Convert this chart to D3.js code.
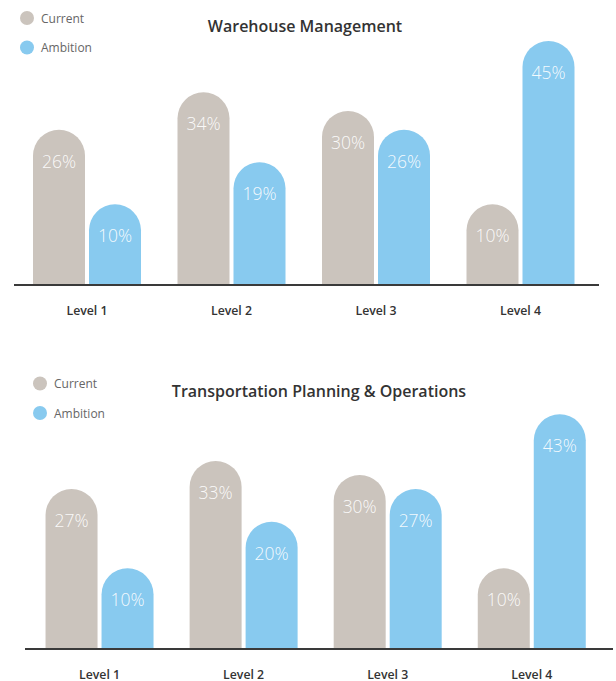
<!DOCTYPE html>
<html>
<head>
<meta charset="utf-8">
<script src="https://cdn.jsdelivr.net/npm/d3@7"></script>
<style>
  html, body { margin: 0; padding: 0; background: #fff; }
  svg { display: block; }
</style>
</head>
<body>
<svg id="chart" width="616" height="681"></svg>
<script>
// Maturity levels and series
const levels = ["Level 1", "Level 2", "Level 3", "Level 4"];
const seriesNames = ["Current", "Ambition"];

// Warehouse Management (%)
const warehouseCurrent = [26, 34, 30, 10];
const warehouseAmbition = [10, 19, 26, 45];

// Transportation Planning & Operations (%)
const transportCurrent = [27, 33, 30, 10];
const transportAmbition = [10, 20, 27, 43];

const panelTitles = ["Warehouse Management", "Transportation Planning & Operations"];

const colors = { Current: "#cbc4bd", Ambition: "#88caef" };

const svg = d3.select("#chart");

// Bar height scale (pixels above the baseline)
const h = d3.scaleLinear().domain([0, 45]).range([34, 244]);

function drawPanel(cfg) {
  const g = svg.append("g");
  const rows = levels.map((lvl, i) => ({
    level: lvl,
    values: [
      { key: "Current", value: cfg.current[i] },
      { key: "Ambition", value: cfg.ambition[i] }
    ]
  }));

  const step = (cfg.x1 - cfg.x0) / levels.length;
  const pad = 1 - 108 / step;
  const x0 = d3.scaleBand()
    .domain(levels)
    .range([cfg.x0, cfg.x1])
    .paddingInner(pad)
    .paddingOuter(pad / 2);

  const x1 = d3.scaleBand()
    .domain(seriesNames)
    .range([0, x0.bandwidth()])
    .paddingInner(2 - 108 / 56);

  const groups = g.selectAll("g.level")
    .data(rows)
    .join("g")
    .attr("class", "level")
    .attr("transform", d => `translate(${x0(d.level)},0)`);

  const base = cfg.baseline;

  // Pill-shaped bars: rectangle with a semicircular top
  groups.selectAll("path.bar")
    .data(d => d.values)
    .join("path")
    .attr("class", "bar")
    .attr("fill", d => colors[d.key])
    .attr("d", d => {
      const w = x1.bandwidth();
      const r = w / 2;
      const x = x1(d.key);
      const top = base - h(d.value);
      return `M${x},${base} V${top + r} A${r},${r} 0 0 1 ${x + w},${top + r} V${base} Z`;
    });

  groups.selectAll("text.val")
    .data(d => d.values)
    .join("text")
    .attr("class", "val")
    .attr("x", d => x1(d.key) + x1.bandwidth() / 2)
    .attr("y", d => base - h(d.value) + 38)
    .attr("text-anchor", "middle")
    .attr("font-family", "'Open Sans', sans-serif")
    .attr("font-weight", 300)
    .attr("font-size", 17.5)
    .attr("fill", "#ffffff")
    .attr("fill-opacity", 0.92)
    .text(d => d.value + "%");

  // Baseline
  g.append("line")
    .attr("x1", cfg.lineX0).attr("x2", cfg.lineX1)
    .attr("y1", base).attr("y2", base)
    .attr("stroke", "#3a3a3a")
    .attr("stroke-width", 2);

  // Category labels
  g.selectAll("text.cat")
    .data(levels)
    .join("text")
    .attr("class", "cat")
    .attr("x", d => x0(d) + x0.bandwidth() / 2)
    .attr("y", base + 29.5)
    .attr("text-anchor", "middle")
    .attr("font-family", "'Open Sans', sans-serif")
    .attr("font-weight", 600)
    .attr("font-size", 12.3)
    .attr("fill", "#333")
    .text(d => d);

  // Title
  g.append("text")
    .attr("x", cfg.titleX)
    .attr("y", cfg.titleY)
    .attr("text-anchor", "middle")
    .attr("font-family", "'Open Sans', sans-serif")
    .attr("font-weight", 600)
    .attr("font-size", 16)
    .attr("fill", "#333")
    .text(cfg.title);

  // Legend
  const lg = g.selectAll("g.legend")
    .data(seriesNames)
    .join("g")
    .attr("class", "legend")
    .attr("transform", (d, i) => `translate(${cfg.legendX},${cfg.legendY + i * 29.5})`);
  lg.append("circle").attr("r", 7).attr("fill", d => colors[d]);
  lg.append("text")
    .attr("x", 14)
    .attr("y", 4.5)
    .attr("font-family", "'Open Sans', sans-serif")
    .attr("font-size", 12)
    .attr("fill", "#666")
    .text(d => d);
}

drawPanel({
  title: panelTitles[0],
  current: warehouseCurrent,
  ambition: warehouseAmbition,
  x0: 14.75, x1: 592.75,
  baseline: 285,
  lineX0: 14, lineX1: 599,
  titleX: 305, titleY: 32,
  legendX: 27, legendY: 18
});

drawPanel({
  title: panelTitles[1],
  current: transportCurrent,
  ambition: transportAmbition,
  x0: 27.5, x1: 603.8,
  baseline: 649,
  lineX0: 25, lineX1: 613,
  titleX: 319, titleY: 397,
  legendX: 40, legendY: 383.5
});
</script>
</body>
</html>
